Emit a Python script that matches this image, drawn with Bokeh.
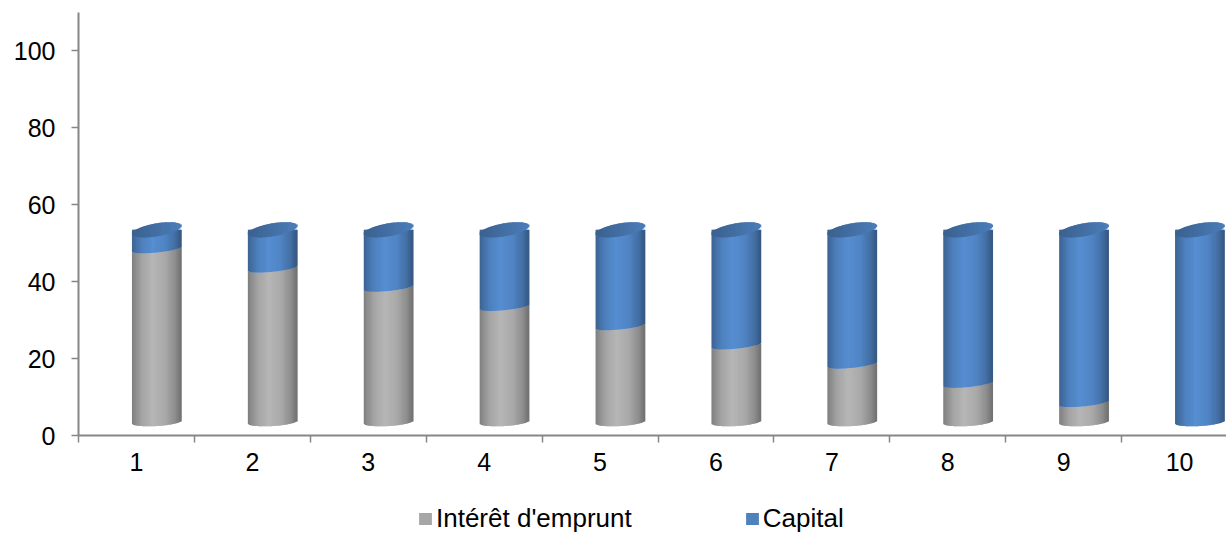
import numpy as np
from bokeh.plotting import figure
from bokeh.layouts import column
from bokeh.models import Range1d, FixedTicker, Legend, LegendItem, ColumnDataSource
from bokeh.embed import file_html
from bokeh.resources import INLINE

# ---- data ----
categories = ["1", "2", "3", "4", "5", "6", "7", "8", "9", "10"]
interet = [45, 40, 35, 30, 25, 20, 15, 10, 5, 0]
capital = [5, 10, 15, 20, 25, 30, 35, 40, 45, 50]
series_names = ["Intérêt d'emprunt", "Capital"]
y_ticks = [0, 20, 40, 60, 80, 100]

# ---- styling / geometry ----
W = 1226
H_MAIN, H_LEG = 490, 45
LEFT, TOP, BOTTOM = 78, 12, 55
CAT_PX = 115.9
frame_w = W - LEFT
frame_h = H_MAIN - TOP - BOTTOM
x_end = 0.5 + frame_w / CAT_PX
y_end = 110
XPX = frame_w / (x_end - 0.5)
YPX = frame_h / y_end

SHIFT_X_PX = 20.0      # 3D depth shift to the right
DEPTH_Y = 3.5          # 3D depth shift upward (data units)
HALF_W_PX = 24.5
N = 44

base_rgb = [(182, 182, 182), (86, 142, 210)]
legend_colors = ["#A6A6A6", "#4F81BD"]
stops_t = [-1.0, -0.6, -0.15, 0.35, 0.75, 1.0]
stops_f = [0.70, 0.90, 1.0, 0.93, 0.78, 0.62]

BASE_B, BASE_TILT = 4.0, 1.5
SEAM_B, SEAM_TILT = 3.5, 2.5
CAP_B, CAP_TILT = 6.5, 4.0


def hexcol(rgb, f):
    r, g, b = [int(max(0, min(255, round(c * f)))) for c in rgb]
    return "#%02x%02x%02x" % (r, g, b)


def front(h, t, b_px, tilt_px):
    return h + (tilt_px * t - b_px * np.sqrt(np.clip(1 - t * t, 0, 1))) / YPX


def back(h, t, b_px, tilt_px):
    return h + (tilt_px * t + b_px * np.sqrt(np.clip(1 - t * t, 0, 1))) / YPX


te = np.linspace(-1, 1, N + 1)
tc = (te[:-1] + te[1:]) / 2
shade = np.interp(tc, stops_t, stops_f)
overlap = 0.8 / XPX

body = dict(left=[], right=[], bottom=[], top=[], color=[])
caps = dict(left=[], right=[], bottom=[], top=[], color=[])

series = [interet, capital]
for i, cat in enumerate(categories):
    xc = i + 1 + SHIFT_X_PX / XPX
    lefts = xc + HALF_W_PX * te[:-1] / XPX
    rights = xc + HALF_W_PX * te[1:] / XPX + overlap
    cum = 0.0
    top_series = 0
    for k, vals in enumerate(series):
        v = vals[i]
        if v <= 0:
            continue
        if cum == 0:
            bot = front(cum + DEPTH_Y, tc, BASE_B, BASE_TILT)
        else:
            bot = front(cum + DEPTH_Y, tc, SEAM_B, SEAM_TILT)
        cum += v
        if k < len(series) - 1 and sum(s[i] for s in series[k + 1:]) > 0:
            tp = front(cum + DEPTH_Y, tc, SEAM_B, SEAM_TILT)
        else:
            tp = np.full_like(tc, cum + DEPTH_Y)
        top_series = k
        body["left"] += list(lefts)
        body["right"] += list(rights)
        body["bottom"] += list(bot)
        body["top"] += list(tp)
        body["color"] += [hexcol(base_rgb[k], f) for f in shade]
    # top cap
    capf = np.interp(tc, [-1, 1], [0.68, 0.88])
    caps["left"] += list(lefts)
    caps["right"] += list(rights)
    caps["bottom"] += list(front(cum + DEPTH_Y, tc, CAP_B, CAP_TILT))
    caps["top"] += list(back(cum + DEPTH_Y, tc, CAP_B, CAP_TILT))
    caps["color"] += [hexcol(base_rgb[top_series], f) for f in capf]

p = figure(width=W, height=H_MAIN, x_range=Range1d(0.5, x_end), y_range=Range1d(0, y_end),
           output_backend="svg", toolbar_location=None,
           min_border_left=LEFT, min_border_right=0, min_border_top=TOP,
           min_border_bottom=BOTTOM)
p.outline_line_color = None
p.grid.visible = False
p.background_fill_color = "white"
p.border_fill_color = "white"

p.quad(left="left", right="right", bottom="bottom", top="top", fill_color="color",
       line_color=None, source=ColumnDataSource(body))
p.quad(left="left", right="right", bottom="bottom", top="top", fill_color="color",
       line_color=None, source=ColumnDataSource(caps))

AXIS_COLOR = "#868686"
FONT = "Liberation Sans"

xa = p.xaxis[0]
xa.ticker = FixedTicker(ticks=list(range(1, len(categories) + 1)),
                        minor_ticks=[j + 0.5 for j in range(len(categories) + 1)])
xa.major_label_overrides = {j + 1: c for j, c in enumerate(categories)}
xa.major_tick_line_color = None
xa.major_tick_out = 7
xa.major_tick_in = 0
xa.minor_tick_out = 7
xa.minor_tick_in = 0
xa.minor_tick_line_color = AXIS_COLOR
xa.minor_tick_line_width = 1.5
xa.axis_line_color = AXIS_COLOR
xa.axis_line_width = 2
xa.major_label_text_font = FONT
xa.major_label_text_font_size = "25px"
xa.major_label_text_color = "#000000"
xa.major_label_standoff = 10

ya = p.yaxis[0]
ya.ticker = FixedTicker(ticks=y_ticks)
ya.minor_tick_line_color = None
ya.major_tick_out = 7
ya.major_tick_in = 0
ya.major_tick_line_color = AXIS_COLOR
ya.major_tick_line_width = 1.5
ya.axis_line_color = AXIS_COLOR
ya.axis_line_width = 2
ya.major_label_text_font = FONT
ya.major_label_text_font_size = "25px"
ya.major_label_text_color = "#000000"
ya.major_label_standoff = 16

# ---- legend strip below ----
pl = figure(width=W, height=H_LEG, x_range=Range1d(0, 1), y_range=Range1d(0, 1),
            output_backend="svg", toolbar_location=None,
            min_border_left=0, min_border_right=0, min_border_top=0, min_border_bottom=0)
pl.axis.visible = False
pl.grid.visible = False
pl.outline_line_color = None
pl.background_fill_color = "white"
pl.border_fill_color = "white"

# legend-only renderers (one hidden datum each, outside the visible range)
r_leg = []
for c in legend_colors:
    src = ColumnDataSource(dict(left=[-3], right=[-2], bottom=[-3], top=[-2]))
    r_leg.append(pl.quad(left="left", right="right", bottom="bottom", top="top",
                         fill_color=c, line_color=None, source=src))

legend = Legend(items=[LegendItem(label=series_names[0], renderers=[r_leg[0]]),
                       LegendItem(label=series_names[1], renderers=[r_leg[1]])],
                orientation="horizontal", location=(417 - LEFT, 1),
                padding=0, margin=0, spacing=112, label_standoff=3,
                glyph_width=16, glyph_height=15,
                label_text_font=FONT, label_text_font_size="26px",
                label_text_color="#000000",
                background_fill_alpha=0, border_line_color=None)
pl.add_layout(legend, "center")

layout = column(p, pl, spacing=0)
open("out.html", "w").write(file_html(layout, INLINE))
